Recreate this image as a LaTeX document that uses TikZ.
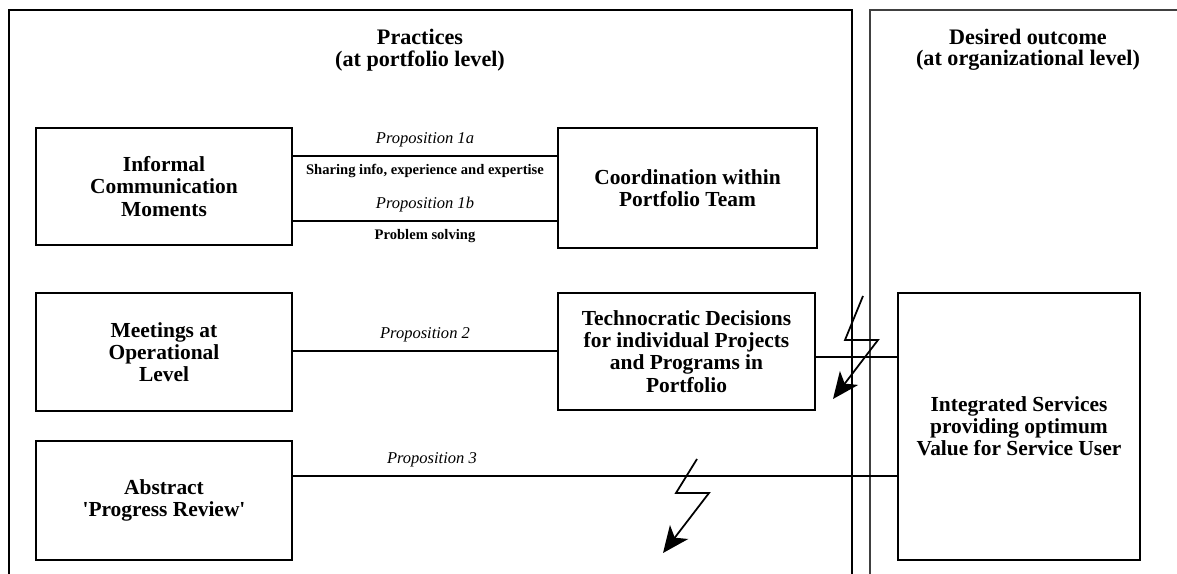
\documentclass[tikz,border=0pt]{standalone}
\usepackage{fontspec}
\setmainfont{Liberation Serif}
\usetikzlibrary{arrows.meta}

\tikzset{
    practice/.style={draw,line width=1.1pt,align=center,inner sep=2pt,
        font=\bfseries\fontsize{12.2}{12.6}\selectfont},
    proposition/.style={font=\itshape\fontsize{9.4}{11}\selectfont},
    mechanism/.style={font=\bfseries\fontsize{8.3}{10}\selectfont},
    heading/.style={font=\bfseries\fontsize{12.6}{12.2}\selectfont,align=center},
    bolt/.style={line width=1pt,-{Stealth[length=15pt,width=13pt,inset=4pt]}}
}

\begin{document}
\begin{tikzpicture}[x=0.02cm,y=-0.02cm]
        \useasboundingbox (0,0) rectangle (1177,574);
        % The two panels
        \draw [line width=1.1pt] (9,580) -- (9,10) -- (852,10) -- (852,580);
        \draw [line width=1.1pt,black!75] (870,580) -- (870,10) -- (1180,10);
        \node [heading] (practices) at (420,50) {Practices\\(at portfolio level)};
        \node [heading] (outcome) at (1028,50) {Desired outcome\\(at organizational level)};
        % The boxes
        \node [practice,minimum width=5.12cm,minimum height=2.34cm] (informal) at (164,186.5)
            {Informal\\Communication\\Moments};
        \node [practice,minimum width=5.18cm,minimum height=2.4cm] (coord) at (687.5,188)
            {Coordination within\\Portfolio Team};
        \node [practice,minimum width=5.12cm,minimum height=2.36cm] (meetings) at (164,352)
            {Meetings at\\Operational\\Level};
        \node [practice,minimum width=5.14cm,minimum height=2.34cm] (techno) at (686.5,351.5)
            {Technocratic Decisions\\for individual Projects\\and Programs in\\Portfolio};
        \node [practice,minimum width=5.12cm,minimum height=2.38cm] (abstract) at (164,500.5)
            {Abstract\\\textquotesingle Progress Review\textquotesingle};
        \node [practice,minimum width=4.84cm,minimum height=5.34cm] (services) at (1019,426.5)
            {Integrated Services\\providing optimum\\Value for Service User};
        % The propositions
        \draw [line width=1pt] (informal.east |- 0,156) -- (coord.west |- 0,156)
            node [proposition,midway,above=1pt] {Proposition 1a}
            node [mechanism,midway,below=1pt] {Sharing info, experience and expertise};
        \draw [line width=1pt] (informal.east |- 0,221) -- (coord.west |- 0,221)
            node [proposition,midway,above=1pt] {Proposition 1b}
            node [mechanism,midway,below=1pt] {Problem solving};
        \draw [line width=1pt] (meetings.east |- 0,351) -- (techno.west |- 0,351)
            node [proposition,midway,above=1pt] {Proposition 2};
        \draw [line width=1pt] (techno.east |- 0,357) -- (services.west |- 0,357);
        \draw [line width=1pt] (abstract.east |- 0,476) -- (services.west |- 0,476)
            node [proposition,pos=0.23,above=1pt] {Proposition 3};
        % The broken links
        \coordinate (bolt a) at (863,296);
        \coordinate (bolt b) at (697,459);
        \draw [bolt] (bolt a) -- (845,340) -- (878,340) -- (833,399);
        \draw [bolt] (bolt b) -- (676,493) -- (709,493) -- (663,553);
    \end{tikzpicture}
\end{document}
